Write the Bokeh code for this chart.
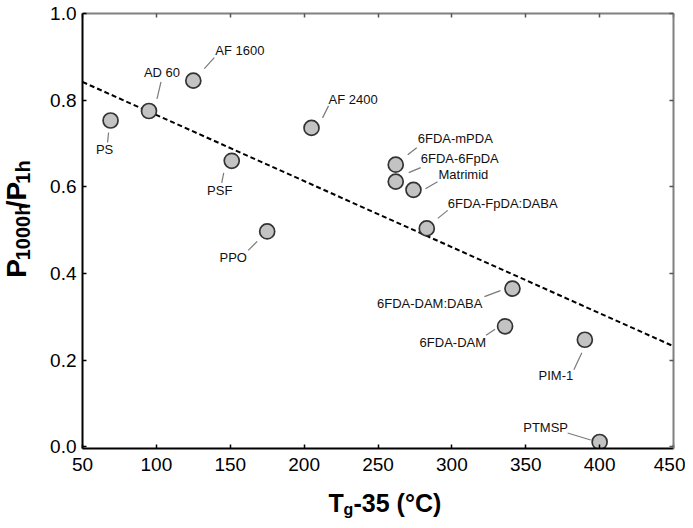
import numpy as np
from bokeh.plotting import figure
from bokeh.layouts import row, column
from bokeh.models import (LinearAxis, FixedTicker, ColumnDataSource, Range1d,
                          NumeralTickFormatter, CustomJSTickFormatter)
from bokeh.embed import file_html
from bokeh.resources import INLINE
from bokeh.core.properties import value

# ---- data ----
names = ["PS", "AD 60", "AF 1600", "AF 2400", "PSF", "PPO", "6FDA-mPDA", "6FDA-6FpDA",
         "Matrimid", "6FDA-FpDA:DABA", "6FDA-DAM:DABA", "6FDA-DAM", "PIM-1", "PTMSP"]
tg35 = [69, 95, 125, 205, 151, 175, 262, 262, 274, 283, 341, 336, 390, 400]
ratio = [0.753, 0.775, 0.845, 0.736, 0.660, 0.497, 0.651, 0.612, 0.593, 0.504, 0.365, 0.278, 0.247, 0.011]
trend_x = [50, 450]
trend_y = [0.842, 0.232]
x_ticks = [50, 100, 150, 200, 250, 300, 350, 400, 450]
y_ticks = [0.0, 0.2, 0.4, 0.6, 0.8, 1.0]

# ---- annotation layout (screen px offsets from each point; +dy = down) ----
label_dx = [-6, 13, 22, 17, -12, -34, 22, 25, 25, 21, -30, -19, -29, -54]
label_dy = [29, -38, -30, -28, 30, 26, -26, -23, -15, -25, 15, 16, 36, -15]
label_align = ["center", "center", "left", "left", "center", "center", "left", "left",
               "left", "left", "right", "right", "center", "center"]
lead = [(-2, 12, -3, 22), (8, -12, 12, -29), (11, -12, 21, -23), (11, -10, 17, -22),
        (-8, 12, -10, 22), (-10, 10, -19, 19), (12, -10, 21, -17), (13, -9, 25, -14),
        (12, -1, 24, -8), (11, -10, 21, -18), (-12, 2, -28, 8), (-10, 3, -19, 9),
        (-3, 13, -11, 30), (-9, -2, -32, -9)]

FONT = "Liberation Sans"
FW, FH = 591, 435
X0, X1 = 50, 450
Y0, Y1 = -0.004, 1.0
YLAB_W = 44
BL, BR, BT, BB = 82 - YLAB_W, 12, 13, 40
PW = BL + FW + BR
PH = BT + FH + BB
TOTAL_H = 526
XLAB_H = TOTAL_H - PH

p = figure(frame_width=FW, frame_height=FH,
           x_range=Range1d(X0, X1), y_range=Range1d(Y0, Y1),
           output_backend="svg", toolbar_location=None,
           min_border_left=BL, min_border_right=BR, min_border_top=BT, min_border_bottom=BB)
p.grid.visible = False
p.outline_line_color = None
p.align = "start"


def style_main(ax, ticks):
    ax.ticker = FixedTicker(ticks=ticks)
    ax.axis_line_color = "black"
    ax.axis_line_width = 2
    ax.major_tick_in = 4
    ax.major_tick_out = 0
    ax.major_tick_line_color = "black"
    ax.major_tick_line_width = 1.5
    ax.minor_tick_line_color = None
    ax.major_label_text_font = FONT
    ax.major_label_text_font_size = "19px"
    ax.major_label_text_color = "black"


style_main(p.xaxis[0], x_ticks)
style_main(p.yaxis[0], y_ticks)
p.yaxis[0].formatter = NumeralTickFormatter(format="0.0")
p.yaxis[0].major_label_standoff = 6
p.xaxis[0].major_label_standoff = 9

for loc, ticks in (("above", x_ticks), ("right", y_ticks)):
    ax = LinearAxis(ticker=FixedTicker(ticks=ticks),
                    formatter=CustomJSTickFormatter(code="return ''"))
    ax.axis_line_color = "#808080"
    ax.axis_line_width = 2
    ax.major_tick_in = 4
    ax.major_tick_out = 0
    ax.major_tick_line_color = "#555555"
    ax.major_tick_line_width = 1.5
    ax.minor_tick_line_color = None
    ax.major_label_text_color = None
    ax.major_label_standoff = 0
    p.add_layout(ax, loc)

# trend line
p.line(trend_x, trend_y, line_color="black", line_width=2, line_dash="5 3")

# leader lines: convert px offsets to data units
sx = (X1 - X0) / FW
sy = (Y1 - Y0) / FH
x0s = [x + l[0] * sx for x, l in zip(tg35, lead)]
y0s = [y - l[1] * sy for y, l in zip(ratio, lead)]
x1s = [x + l[2] * sx for x, l in zip(tg35, lead)]
y1s = [y - l[3] * sy for y, l in zip(ratio, lead)]
p.segment(x0s, y0s, x1s, y1s, line_color="#7a7a7a", line_width=1.2)

# points
p.scatter(tg35, ratio, size=15, fill_color="#c3c3c3", line_color="#333333", line_width=1.7)

# point labels
for align in ("left", "center", "right"):
    idx = [i for i, a in enumerate(label_align) if a == align]
    src = ColumnDataSource(dict(
        x=[tg35[i] for i in idx], y=[ratio[i] for i in idx],
        t=[names[i] for i in idx],
        dx=[label_dx[i] for i in idx], dy=[label_dy[i] for i in idx]))
    p.text(x="x", y="y", text="t", x_offset="dx", y_offset="dy", source=src,
           text_align=align, text_baseline="middle",
           text_font=value(FONT), text_font_size="13px", text_color="#111111")


def label_fig(w, h):
    f = figure(width=w, height=h, x_range=Range1d(0, w), y_range=Range1d(0, h),
               output_backend="svg", toolbar_location=None, min_border=0,
               x_axis_location=None, y_axis_location=None)
    f.grid.visible = False
    f.outline_line_color = None
    f.align = "start"
    return f


# y axis title  P_1000h / P_1h  (rotated, pieces in pixel units)
ylab = label_fig(YLAB_W, PH)
yc = PH - 232
y_parts = [("P", 16, "28px", 19.5), ("1000h", 22, "20px", 58.5),
           ("/P", 16, "28px", 27.5), ("1h", 22, "20px", 23.3)]
ypos = yc - sum(w for *_, w in y_parts) / 2
for txt, xx, fs, w in y_parts:
    ylab.text(x=[xx], y=[ypos], text=[txt], angle=np.pi / 2,
              text_align="left", text_baseline="alphabetic",
              text_font=value(FONT), text_font_style="bold", text_font_size=fs,
              text_color="black")
    ypos += w

# x axis title  T_g-35 (°C)
xlab = label_fig(YLAB_W + PW, XLAB_H)
base = XLAB_H - (502.5 - PH)
x_parts = [("T", 328, base, "25px"), ("g", 343, base - 6, "16px"),
           ("-35 (°C)", 353, base, "25px")]
for txt, xx, yy, fs in x_parts:
    xlab.text(x=[xx], y=[yy], text=[txt], text_align="left", text_baseline="alphabetic",
              text_font=value(FONT), text_font_style="bold", text_font_size=fs,
              text_color="black")

layout = column(row(ylab, p, spacing=0), xlab, spacing=0)
open("out.html", "w").write(file_html(layout, INLINE))
